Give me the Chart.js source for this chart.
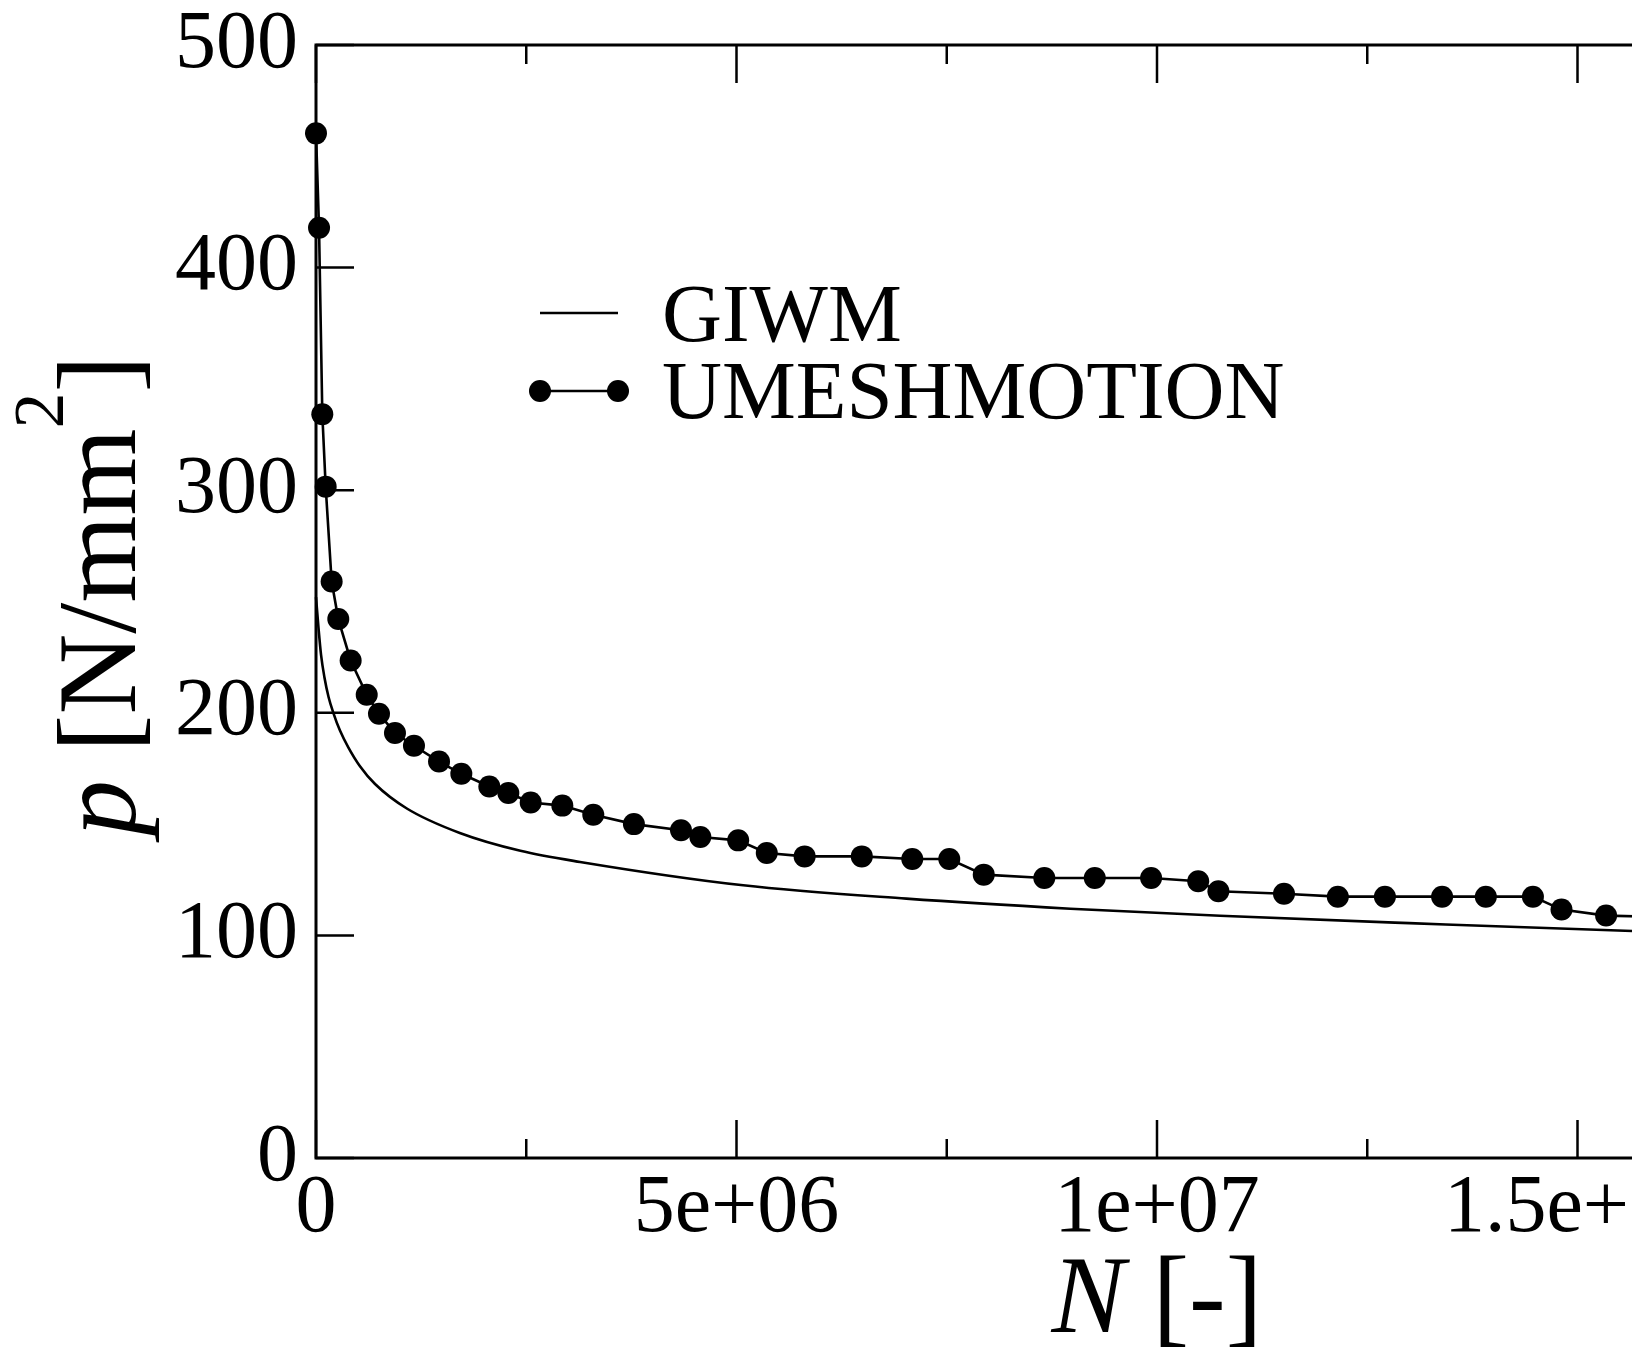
<!DOCTYPE html>
<html lang="en">
<head>
    <meta charset="UTF-8">
    <title>p vs N</title>
    <script src="https://cdn.jsdelivr.net/npm/chart.js"></script>
    <style>
        html, body {
            margin: 0;
            padding: 0;
            background: #fff;
            overflow: hidden;
        }

        canvas {
            display: block;
        }
    </style>
</head>
<body>

    <canvas id="myChart" width="2150" height="1353"></canvas>

    <script>
        // axis ticks
        var xTickValues = [0, 5e6, 1e7, 1.5e7, 2e7];
        var xTickLabels = ['0', '5e+06', '1e+07', '1.5e+07', '2e+07'];
        var xMinorTicks = [2.5e6, 7.5e6, 1.25e7, 1.75e7];
        var yTickValues = [0, 100, 200, 300, 400, 500];
        var yTickLabels = ['0', '100', '200', '300', '400', '500'];

        // GIWM (smooth curve)
        var giwmN = [0, 30e3, 60e3, 100e3, 150e3, 206e3, 285e3, 384e3, 523e3, 702e3, 1.08e6, 1.71e6, 2.43e6, 3.14e6, 5.08e6, 7.02e6, 8.97e6, 10.75e6, 13.0e6, 15.65e6, 17.0e6];
        var giwmP = [252, 238, 226, 216, 207, 200, 192, 184.5, 176, 168, 157, 146, 138, 133, 122.5, 116.5, 112, 108.8, 105.5, 102, 100.8];

        // UMESHMOTION (markers)
        var umeshN = [0, 0.036e6, 0.075e6, 0.115e6, 0.186e6, 0.265e6, 0.412e6, 0.603e6, 0.749e6, 0.939e6, 1.165e6, 1.463e6, 1.728e6, 2.061e6, 2.287e6, 2.553e6, 2.929e6, 3.297e6,
            3.78e6, 4.34e6, 4.57e6, 5.02e6, 5.36e6, 5.81e6, 6.49e6, 7.09e6, 7.53e6, 7.94e6, 8.66e6, 9.26e6, 9.93e6, 10.49e6, 10.73e6,
            11.51e6, 12.15e6, 12.71e6, 13.39e6, 13.91e6, 14.47e6, 14.81e6, 15.34e6, 15.9e6];
        var umeshP = [460.3, 417.9, 334.1, 301.6, 259.0, 242.1, 223.5, 208.1, 199.6, 190.9, 185.2, 178.1, 172.6, 166.9, 164.0, 159.7, 158.3, 154.2,
            150.0, 147.2, 144.2, 142.7, 137.0, 135.5, 135.5, 134.3, 134.3, 127.3, 125.8, 125.8, 125.8, 124.3, 119.8,
            118.7, 117.4, 117.4, 117.4, 117.4, 117.4, 111.6, 108.9, 108.4];

        var serif = '"Liberation Serif", "Times New Roman", serif';
        Chart.defaults.font.family = serif;
        Chart.defaults.color = '#000';

        function toPoints(xs, ys) {
            return xs.map(function (x, i) { return { x: x, y: ys[i] }; });
        }

        // frame with inward ticks
        var framePlugin = {
            id: 'frame',
            beforeDatasetsDraw: function (chart) {
                var ctx = chart.ctx, a = chart.chartArea;
                var xs = chart.scales.x, ys = chart.scales.y;
                ctx.save();
                ctx.strokeStyle = '#000';
                ctx.lineWidth = 3;
                ctx.strokeRect(a.left, a.top, a.right - a.left, a.bottom - a.top);
                ctx.lineWidth = 2.5;
                ctx.beginPath();
                xTickValues.forEach(function (v) {
                    var px = xs.getPixelForValue(v);
                    ctx.moveTo(px, a.bottom); ctx.lineTo(px, a.bottom - 38);
                    ctx.moveTo(px, a.top); ctx.lineTo(px, a.top + 38);
                });
                xMinorTicks.forEach(function (v) {
                    var px = xs.getPixelForValue(v);
                    ctx.moveTo(px, a.bottom); ctx.lineTo(px, a.bottom - 19);
                    ctx.moveTo(px, a.top); ctx.lineTo(px, a.top + 19);
                });
                yTickValues.forEach(function (v) {
                    var py = ys.getPixelForValue(v);
                    ctx.moveTo(a.left, py); ctx.lineTo(a.left + 38, py);
                    ctx.moveTo(a.right, py); ctx.lineTo(a.right - 38, py);
                });
                ctx.stroke();
                ctx.restore();
            }
        };

        // axis titles and the legend inside the plot
        var textPlugin = {
            id: 'texts',
            afterDraw: function (chart) {
                var ctx = chart.ctx, a = chart.chartArea;
                ctx.save();
                ctx.fillStyle = '#000';
                ctx.textBaseline = 'alphabetic';
                ctx.textAlign = 'left';

                // x title: N [-]
                var fIt = 'italic 110px ' + serif, fRg = '110px ' + serif;
                ctx.font = fIt; var wN = ctx.measureText('N').width;
                ctx.font = fRg; var wR = ctx.measureText(' [-]').width;
                var x0 = (a.left + a.right) / 2 - (wN + wR) / 2;
                ctx.font = fIt; ctx.fillText('N', x0, 1332);
                ctx.font = fRg; ctx.fillText(' [-]', x0 + wN, 1332);

                // y title: p [N/mm^2]
                var fs = 112;
                var fI = 'italic ' + fs + 'px ' + serif, fR = fs + 'px ' + serif, fS = '72px ' + serif;
                ctx.font = fI; var w1 = ctx.measureText('p').width;
                ctx.font = fR; var w2 = ctx.measureText(' [N/mm').width; var w4 = ctx.measureText(']').width;
                ctx.font = fS; var w3 = ctx.measureText('2').width;
                var tot = w1 + w2 + w3 + w4;
                ctx.translate(135, (a.top + a.bottom) / 2 - 6);
                ctx.rotate(-Math.PI / 2);
                var sx = -tot / 2;
                ctx.font = fI; ctx.fillText('p', sx, 0); sx += w1;
                ctx.font = fR; ctx.fillText(' [N/mm', sx, 0); sx += w2;
                ctx.font = fS; ctx.fillText('2', sx, -72); sx += w3;
                ctx.font = fR; ctx.fillText(']', sx, 0);
                ctx.setTransform(1, 0, 0, 1, 0, 0);

                // legend
                var lx0 = a.left + 224, lx1 = a.left + 302, tx = a.left + 346;
                ctx.strokeStyle = '#000';
                ctx.lineWidth = 2.5;
                ctx.beginPath();
                ctx.moveTo(lx0, 313); ctx.lineTo(lx1, 313);
                ctx.moveTo(lx0, 391); ctx.lineTo(lx1, 391);
                ctx.stroke();
                [lx0, lx1].forEach(function (px) {
                    ctx.beginPath();
                    ctx.arc(px, 391, 11, 0, Math.PI * 2);
                    ctx.fill();
                });
                ctx.font = '83px ' + serif;
                ctx.fillText(chart.data.datasets[0].label, tx, 341);
                ctx.fillText(chart.data.datasets[1].label, tx, 418);
                ctx.restore();
            }
        };

        var ctx = document.getElementById('myChart').getContext('2d');
        var myChart = new Chart(ctx, {
            type: 'line',
            data: {
                datasets: [{
                    label: 'GIWM',
                    data: toPoints(giwmN, giwmP),
                    borderColor: '#000',
                    borderWidth: 2.6,
                    pointRadius: 0,
                    cubicInterpolationMode: 'monotone',
                    fill: false,
                    clip: false
                }, {
                    label: 'UMESHMOTION',
                    data: toPoints(umeshN, umeshP),
                    borderColor: '#000',
                    borderWidth: 2.6,
                    pointRadius: 11,
                    pointBorderWidth: 0,
                    pointBackgroundColor: '#000',
                    tension: 0,
                    fill: false,
                    clip: false
                }]
            },
            options: {
                responsive: false,
                animation: false,
                layout: {
                    padding: { top: 45, right: 152, bottom: 0, left: 0 }
                },
                plugins: {
                    legend: { display: false },
                    tooltip: { enabled: false }
                },
                scales: {
                    x: {
                        type: 'linear',
                        min: 0,
                        max: 2e7,
                        grid: { display: false },
                        border: { display: false },
                        afterBuildTicks: function (scale) {
                            scale.ticks = xTickValues.map(function (v) { return { value: v }; });
                        },
                        afterFit: function (scale) {
                            scale.height = 195;
                            scale.paddingLeft = 0;
                            scale.paddingRight = 0;
                        },
                        ticks: {
                            font: { size: 82 },
                            color: '#000',
                            padding: -6,
                            maxRotation: 0,
                            autoSkip: false,
                            callback: function (value, index) { return xTickLabels[index]; }
                        }
                    },
                    y: {
                        min: 0,
                        max: 500,
                        grid: { display: false },
                        border: { display: false },
                        afterBuildTicks: function (scale) {
                            scale.ticks = yTickValues.map(function (v) { return { value: v }; });
                        },
                        afterFit: function (scale) {
                            scale.width = 316;
                            scale.paddingTop = 0;
                            scale.paddingBottom = 0;
                        },
                        ticks: {
                            font: { size: 82 },
                            color: '#000',
                            padding: 10,
                            callback: function (value, index) { return yTickLabels[index]; }
                        }
                    }
                }
            },
            plugins: [framePlugin, textPlugin]
        });
    </script>

</body>
</html>
